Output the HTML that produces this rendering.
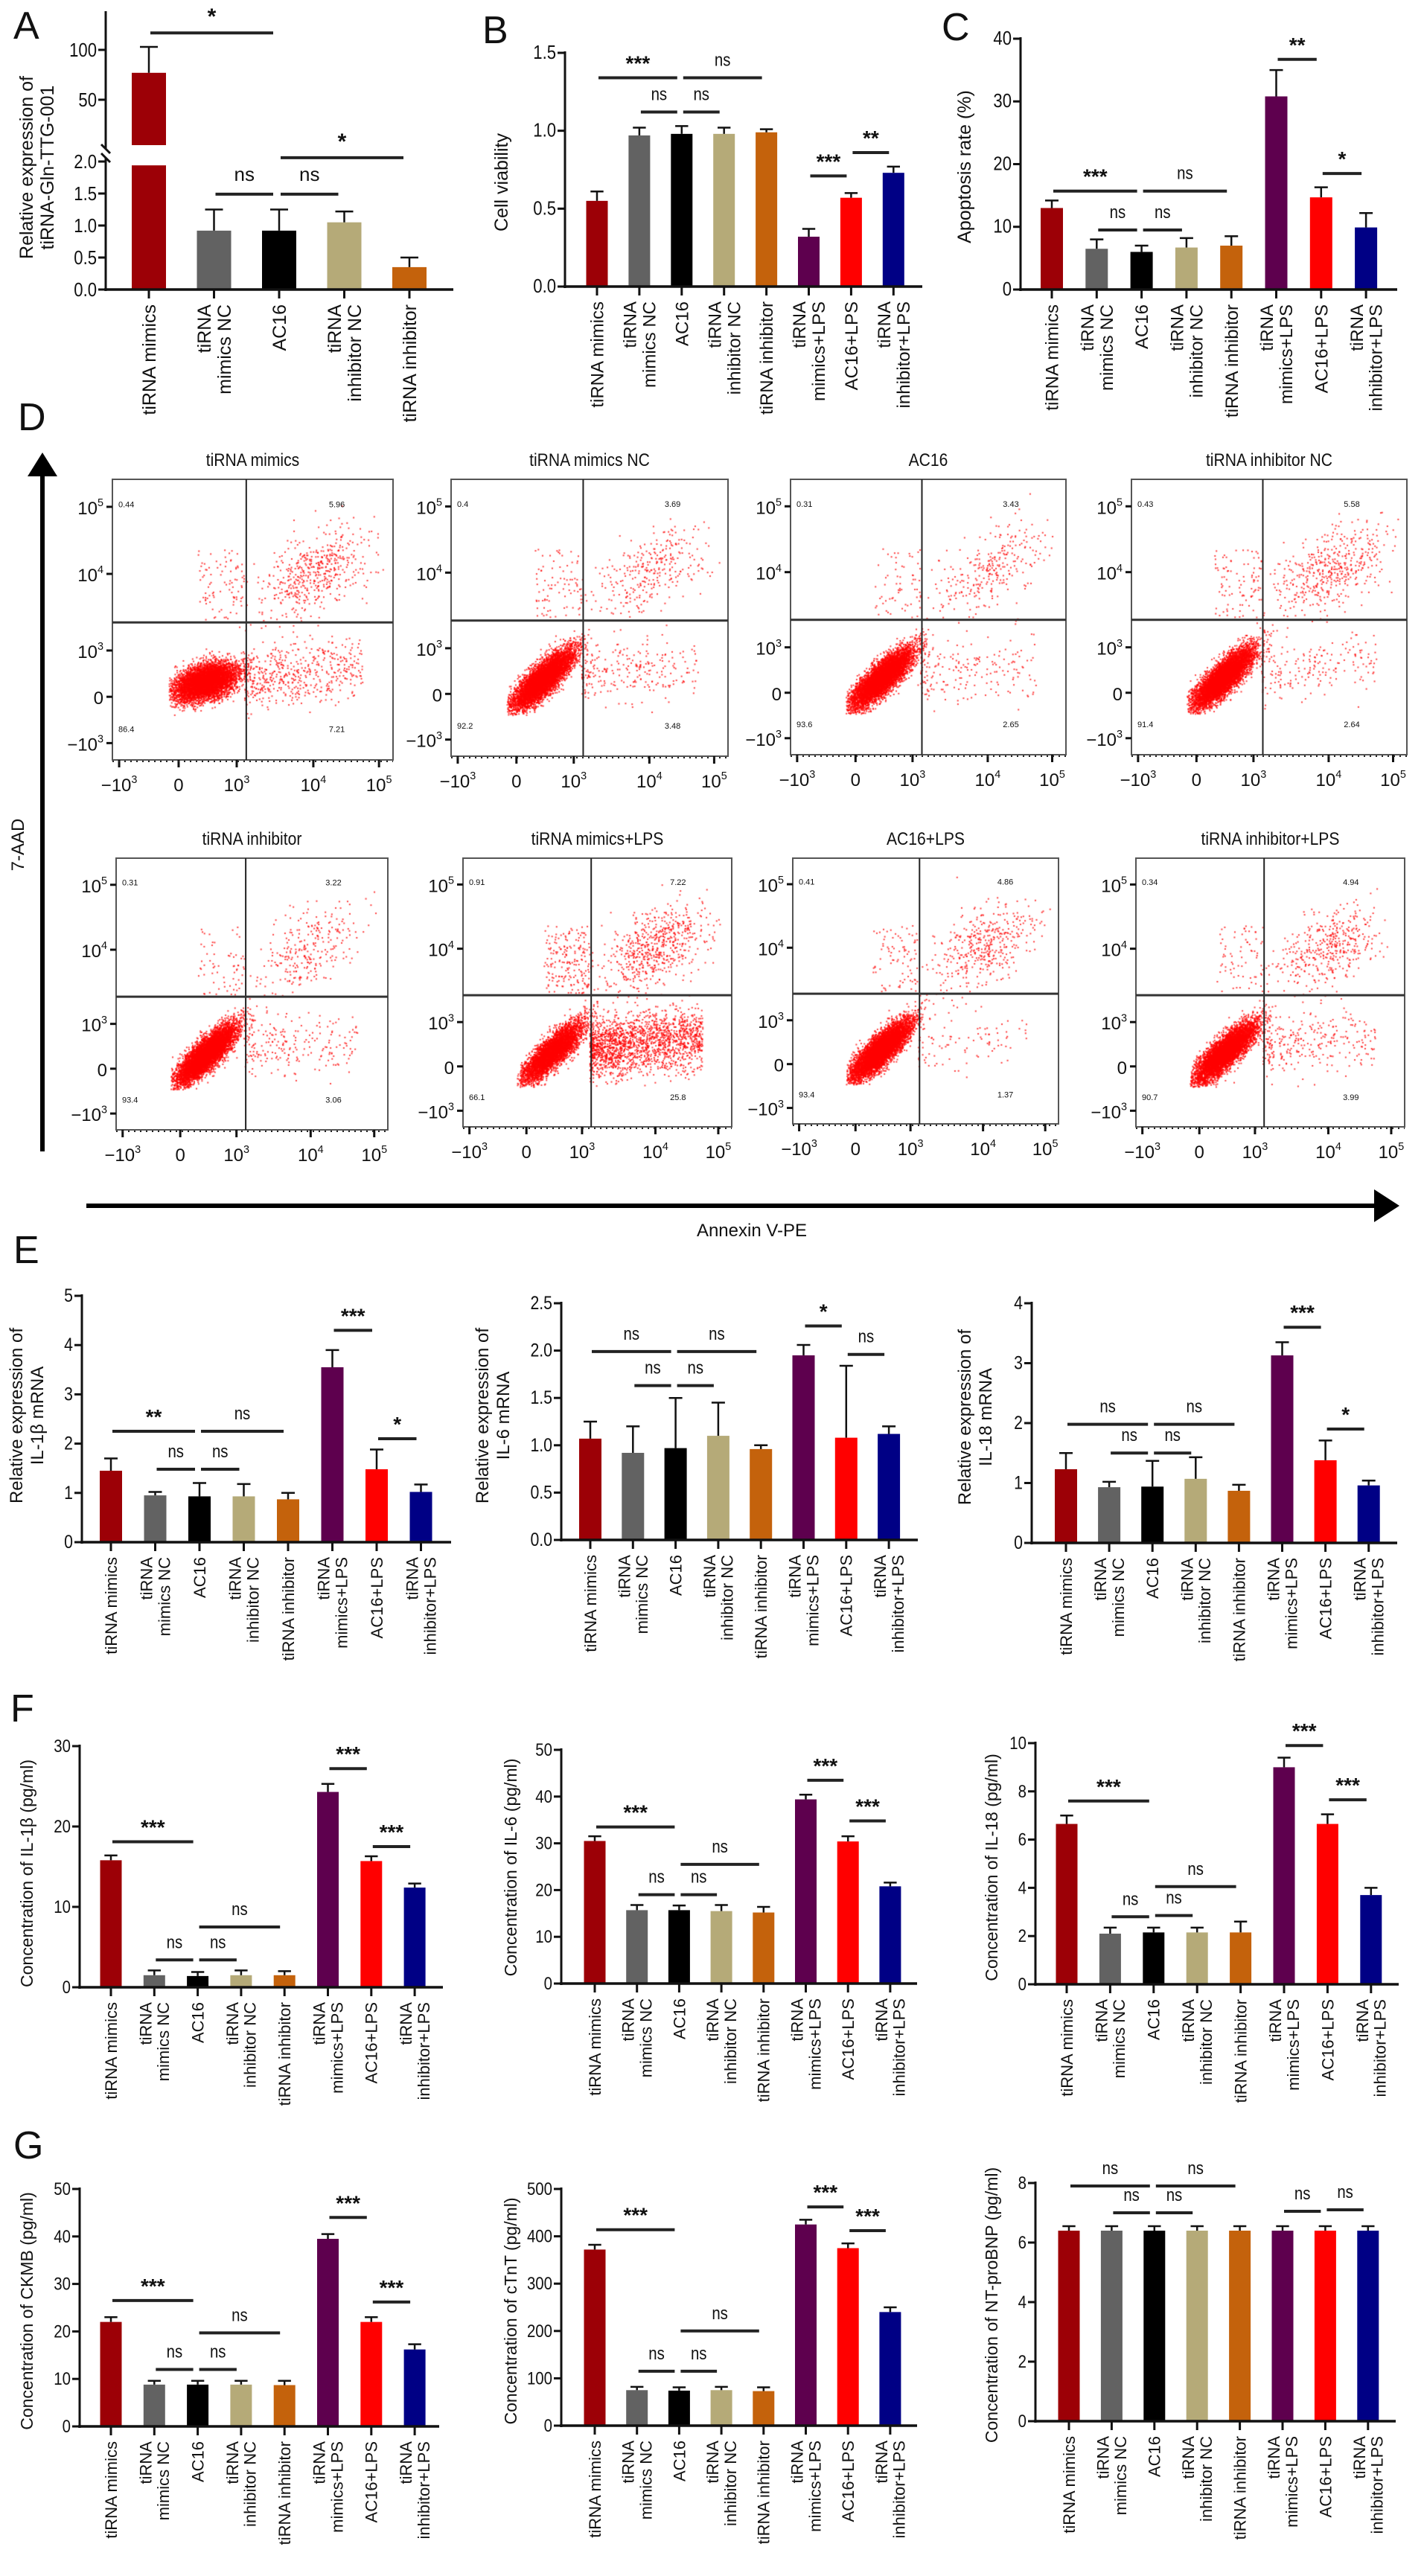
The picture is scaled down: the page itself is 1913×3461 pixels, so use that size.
<!DOCTYPE html>
<html><head><meta charset="utf-8"><title>Figure</title>
<style>
html,body{margin:0;padding:0;background:#fff;}
#wrap{position:relative;width:1913px;height:3461px;overflow:hidden;}
#dots{position:absolute;left:0;top:0;}
#fig{position:absolute;left:0;top:0;}
text{font-family:"Liberation Sans",Arial,sans-serif;fill:#111;}
</style></head>
<body>
<div id="wrap">
<canvas id="dots" width="1913" height="3461"></canvas>
<svg id="fig" width="1913" height="3461" xmlns="http://www.w3.org/2000/svg"></svg>
</div>
<script>
// ---------- DATA ----------
const colors = ["#9c0006","#626262","#000000","#b5aa78","#c4620c","#5e004e","#ff0000","#000085"];
const labels5 = [["tiRNA mimics"],["tiRNA","mimics NC"],["AC16"],["tiRNA","inhibitor NC"],["tiRNA inhibitor"]];
const labels8 = [["tiRNA mimics"],["tiRNA","mimics NC"],["AC16"],["tiRNA","inhibitor NC"],["tiRNA inhibitor"],["tiRNA","mimics+LPS"],["AC16+LPS"],["tiRNA","inhibitor+LPS"]];

const valsA = [77, 0.92, 0.92, 1.05, 0.35];
const errA  = [103, 1.25, 1.25, 1.22, 0.5];

const valsB = [0.55,0.97,0.98,0.98,0.99,0.32,0.57,0.73];
const errB  = [0.61,1.02,1.03,1.02,1.01,0.37,0.60,0.77];
const sigB  = [[0,2,1.34,"***"],[2,4,1.34,"ns"],[1,2,1.12,"ns"],[2,3,1.12,"ns"],[5,6,0.71,"***"],[6,7,0.86,"**"]];

const valsC = [13,6.5,6,6.7,7,30.8,14.7,9.9];
const errC  = [14.2,8,7,8.2,8.5,35,16.3,12.2];
const sigC  = [[0,2,15.7,"***"],[2,4,15.7,"ns"],[1,2,9.5,"ns"],[2,3,9.5,"ns"],[5,6,36.7,"**"],[6,7,18.5,"*"]];

const valsE1 = [1.45,0.95,0.93,0.93,0.87,3.55,1.48,1.02];
const errE1  = [1.7,1.02,1.2,1.18,1.0,3.9,1.88,1.17];
const sigE1  = [[0,2,2.25,"**"],[2,4,2.25,"ns"],[1,2,1.48,"ns"],[2,3,1.48,"ns"],[5,6,4.3,"***"],[6,7,2.1,"*"]];

const valsE2 = [1.07,0.92,0.97,1.1,0.96,1.95,1.08,1.12];
const errE2  = [1.25,1.2,1.5,1.45,1.0,2.06,1.84,1.2];
const sigE2  = [[0,2,1.99,"ns"],[2,4,1.99,"ns"],[1,2,1.63,"ns"],[2,3,1.63,"ns"],[5,6,2.26,"*"],[6,7,1.96,"ns"]];

const valsE3 = [1.23,0.93,0.94,1.07,0.87,3.13,1.38,0.96];
const errE3  = [1.5,1.02,1.37,1.43,0.97,3.35,1.71,1.04];
const sigE3  = [[0,2,1.98,"ns"],[2,4,1.98,"ns"],[1,2,1.5,"ns"],[2,3,1.5,"ns"],[5,6,3.6,"***"],[6,7,1.9,"*"]];

const valsF1 = [15.8,1.5,1.4,1.5,1.5,24.3,15.7,12.4];
const errF1  = [16.4,2.1,1.9,2.1,2.0,25.3,16.3,12.9];
const sigF1  = [[0,2,18.1,"***"],[2,4,7.5,"ns"],[1,2,3.4,"ns"],[2,3,3.4,"ns"],[5,6,27.2,"***"],[6,7,17.5,"***"]];

const valsF2 = [30.5,15.7,15.7,15.5,15.2,39.4,30.4,20.8];
const errF2  = [31.5,16.8,16.7,16.8,16.4,40.4,31.5,21.6];
const sigF2  = [[0,2,33.5,"***"],[2,4,25.5,"ns"],[1,2,19,"ns"],[2,3,19,"ns"],[5,6,43.5,"***"],[6,7,34.8,"***"]];

const valsF3 = [6.65,2.1,2.15,2.15,2.15,9.0,6.65,3.7];
const errF3  = [7.0,2.35,2.35,2.35,2.6,9.4,7.05,4.0];
const sigF3  = [[0,2,7.6,"***"],[2,4,4.05,"ns"],[1,2,2.8,"ns"],[2,3,2.85,"ns"],[5,6,9.9,"***"],[6,7,7.65,"***"]];

const valsG1 = [22,8.8,8.8,8.8,8.7,39.5,22,16.2];
const errG1  = [23,9.6,9.6,9.6,9.6,40.5,23,17.3];
const sigG1  = [[0,2,26.5,"***"],[2,4,19.7,"ns"],[1,2,12,"ns"],[2,3,12,"ns"],[5,6,44,"***"],[6,7,26.2,"***"]];

const valsG2 = [372,75,74,75,73,425,375,240];
const errG2  = [382,82,81,82,81,435,385,250];
const sigG2  = [[0,2,414,"***"],[2,4,200,"ns"],[1,2,115,"ns"],[2,3,115,"ns"],[5,6,462,"***"],[6,7,412,"***"]];

const valsG3 = [6.4,6.4,6.4,6.4,6.4,6.4,6.4,6.4];
const errG3  = [6.55,6.55,6.55,6.55,6.55,6.55,6.55,6.55];
const sigG3  = [[0,2,7.9,"ns"],[2,4,7.9,"ns"],[1,2,7.0,"ns"],[2,3,7.0,"ns"],[5,6,7.05,"ns"],[6,7,7.1,"ns"]];

const ticksA_low = [0,0.5,1.0,1.5,2.0];
const ticksA_high = [50,100];

const flowTitles = ["tiRNA mimics","tiRNA mimics NC","AC16","tiRNA inhibitor NC","tiRNA inhibitor","tiRNA mimics+LPS","AC16+LPS","tiRNA inhibitor+LPS"];
const flowUL = [0.44,0.40,0.31,0.43,0.31,0.91,0.41,0.34];
const flowUR = [5.96,3.69,3.43,5.58,3.22,7.22,4.86,4.94];
const flowLL = [86.4,92.2,93.6,91.4,93.4,66.1,93.4,90.7];
const flowLR = [7.21,3.48,2.65,2.64,3.06,25.8,1.37,3.99];

// ---------- HELPERS ----------
const svg = document.getElementById('fig');
const NS = "http://www.w3.org/2000/svg";
function mk(tag, attrs, parent){
  const e = document.createElementNS(NS, tag);
  for (const k in attrs) e.setAttribute(k, attrs[k]);
  (parent||svg).appendChild(e);
  return e;
}
function txt(s, x, y, size, anchor, parent, extra){
  const t = mk('text', Object.assign({x:x, y:y, 'font-size':size, 'text-anchor':anchor||'middle'}, extra||{}), parent);
  t.textContent = s;
  return t;
}
function fmtTick(v, dec){ return dec ? v.toFixed(dec) : String(v); }

function panelLetter(s, x, y){
  const t = txt(s, x, y, 52, 'start');
  
  
}

function barChart(c){
  const g = mk('g', {});
  
  
  const n = c.vals.length;
  const yS = v => c.baseY - v / c.max * (c.baseY - c.topY);
  const xS = i => c.first + i * c.step;
  const ax = mk('line', {x1:c.axisX, y1:c.baseY+2, x2:c.axisX, y2:c.topY-2, stroke:'#111', 'stroke-width':3}, g);
  
  
  c.ticks.forEach(tv => {
    const ty = yS(tv);
    mk('line', {x1:c.axisX-10, y1:ty, x2:c.axisX, y2:ty, stroke:'#111', 'stroke-width':3}, g);
    const tl = txt(fmtTick(tv, c.dec), c.axisX-12, ty+8, c.tfs||24, 'end', g, {transform:`translate(${c.axisX-12},0) scale(0.85,1) translate(${-(c.axisX-12)},0)`});
    
    
  });
  for (let i=0;i<n;i++){
    const cx = xS(i);
    const y = yS(c.vals[i]);
    const r = mk('rect', {x:cx-c.barW/2, y:y, width:c.barW, height:c.baseY-y, fill:colors[i]}, g);
    
    
    const ye = yS(c.errs[i]);
    mk('line', {x1:cx, y1:y, x2:cx, y2:ye, stroke:'#111', 'stroke-width':2.5}, g);
    mk('line', {x1:cx-c.barW*0.3, y1:ye, x2:cx+c.barW*0.3, y2:ye, stroke:'#111', 'stroke-width':2.5}, g);
    mk('line', {x1:cx, y1:c.baseY, x2:cx, y2:c.baseY+12, stroke:'#111', 'stroke-width':3}, g);
    const lines = c.labels[i];
    lines.forEach((ln, k) => {
      const off = (k - (lines.length-1)/2) * (c.lfs*1.08);
      const lx = cx + off + c.lfs*0.36;
      const ly = c.baseY + 20;
      const t = txt(ln, lx, ly, c.lfs, 'end', g, {transform:`rotate(-90 ${lx} ${ly})`});
      
      
    });
  }
  const xa = mk('line', {x1:c.axisX-2, y1:c.baseY, x2:c.xEnd, y2:c.baseY, stroke:'#111', 'stroke-width':3.5}, g);
  
  
  (c.sigs||[]).forEach(s => {
    const x1 = xS(s[0]) + 2, x2 = xS(s[1]) - 6, sy = yS(s[2]);
    const l = mk('line', {x1:x1, y1:sy, x2:x2, y2:sy, stroke:'#222', 'stroke-width':4}, g);
    
    
    const isStar = s[3].indexOf('*')>=0;
    const t = txt(s[3], (x1+x2)/2, isStar ? sy-10 : sy-16, isStar ? 28 : 24, 'middle', g, isStar ? {'font-weight':'bold'} : {transform:`translate(${(x1+x2)/2},0) scale(0.85,1) translate(${-(x1+x2)/2},0)`});
    
    
  });
  c.title.forEach((ln, k) => {
    const tx = c.titleX + (k - (c.title.length-1)/2) * (c.tlfs*1.15);
    const t = txt(ln, tx, c.titleY, c.tlfs, 'middle', g, {transform:`rotate(-90 ${tx} ${c.titleY})`});
    
    
  });
}

// ---------- PANEL A ----------
(function(){
  const g = mk('g', {});
  
  
  const axisX = 142, baseY = 389;
  const yLow = v => baseY - v*86;
  const yHigh = v => 67 + (100 - v)*1.34;
  const segLowTop = 212, segHighBot = 200;
  const first = 200, step = 87.5, barW = 46;
  const xS = i => first + i*step;
  mk('line', {x1:axisX, y1:baseY+2, x2:axisX, y2:segLowTop, stroke:'#111','stroke-width':3}, g);
  mk('line', {x1:axisX, y1:segHighBot, x2:axisX, y2:15, stroke:'#111','stroke-width':3}, g);
  mk('line', {x1:axisX-6, y1:segHighBot-6, x2:axisX+6, y2:segHighBot+6, stroke:'#111','stroke-width':3}, g);
  mk('line', {x1:axisX-6, y1:segLowTop-6, x2:axisX+6, y2:segLowTop+6, stroke:'#111','stroke-width':3}, g);
  ticksA_low.forEach(tv => {
    const ty = yLow(tv);
    mk('line', {x1:axisX-10, y1:ty, x2:axisX, y2:ty, stroke:'#111','stroke-width':3}, g);
    const t = txt(tv.toFixed(1), axisX-12, ty+9, 26, 'end', g, {transform:`translate(${axisX-12},0) scale(0.85,1) translate(${-(axisX-12)},0)`});
    
    
  });
  ticksA_high.forEach(tv => {
    const ty = yHigh(tv);
    mk('line', {x1:axisX-10, y1:ty, x2:axisX, y2:ty, stroke:'#111','stroke-width':3}, g);
    const t = txt(String(tv), axisX-12, ty+9, 26, 'end', g, {transform:`translate(${axisX-12},0) scale(0.85,1) translate(${-(axisX-12)},0)`});
    
    
  });
  const yOf = v => v > 2 ? yHigh(v) : yLow(v);
  valsA.forEach((v, i) => {
    const cx = xS(i);
    if (v > 2){
      const r1 = mk('rect', {x:cx-barW/2, y:yLow(1.94), width:barW, height:baseY-yLow(1.94), fill:colors[i]}, g);
      
      
      const r2 = mk('rect', {x:cx-barW/2, y:yHigh(v), width:barW, height:195-yHigh(v), fill:colors[i]}, g);
      
      
    } else {
      const r = mk('rect', {x:cx-barW/2, y:yLow(v), width:barW, height:baseY-yLow(v), fill:colors[i]}, g);
      
      
    }
    const y0 = yOf(v), ye = yOf(errA[i]);
    mk('line', {x1:cx, y1:y0, x2:cx, y2:ye, stroke:'#111','stroke-width':2.5}, g);
    mk('line', {x1:cx-12, y1:ye, x2:cx+12, y2:ye, stroke:'#111','stroke-width':2.5}, g);
    mk('line', {x1:cx, y1:baseY, x2:cx, y2:baseY+12, stroke:'#111','stroke-width':3}, g);
    const lines = labels5[i];
    lines.forEach((ln, k) => {
      const lfs = 25;
      const off = (k - (lines.length-1)/2) * (lfs*1.08);
      const lx = cx + off + lfs*0.36, ly = baseY + 20;
      const t = txt(ln, lx, ly, lfs, 'end', g, {transform:`rotate(-90 ${lx} ${ly})`});
      
      
    });
  });
  mk('line', {x1:axisX-2, y1:baseY, x2:609, y2:baseY, stroke:'#111','stroke-width':3.5}, g);
  const sigs = [[0,2,yHigh(117),"*"],[2,4,yLow(2.06),"*"],[1,2,yLow(1.49),"ns"],[2,3,yLow(1.49),"ns"]];
  sigs.forEach(s => {
    const x1 = xS(s[0])+2, x2 = xS(s[1])-8;
    const l = mk('line', {x1:x1, y1:s[2], x2:x2, y2:s[2], stroke:'#222','stroke-width':4}, g);
    
    
    const star = s[3]==='*';
    const t = txt(s[3], (x1+x2)/2, star ? s[2]-12 : s[2]-18, star?30:26, 'middle', g, star?{'font-weight':'bold'}:{});
    
    
  });
  [["Relative expression of",44],["tiRNA-Gln-TTG-001",72]].forEach(p => {
    const t = txt(p[0], p[1], 225, 25, 'middle', g, {transform:`rotate(-90 ${p[1]} 225)`});
    
    
  });
})();

panelLetter('A', 18, 52);
panelLetter('B', 648, 58);
panelLetter('C', 1265, 54);

barChart({name:'panel-b-chart', axisX:759, baseY:385, topY:71, max:1.5, ticks:[0,0.5,1.0,1.5], dec:1, first:802, step:56.9, barW:29, xEnd:1239,
  vals:valsB, errs:errB, sigs:sigB, labels:labels8, lfs:24, tfs:26, title:["Cell viability"], titleX:682, titleY:245, tlfs:25});
barChart({name:'panel-c-chart', axisX:1371, baseY:389, topY:52, max:40, ticks:[0,10,20,30,40], first:1413, step:60.3, barW:30, xEnd:1877,
  vals:valsC, errs:errC, sigs:sigC, labels:labels8, lfs:24, tfs:26, title:["Apoptosis rate (%)"], titleX:1304, titleY:224, tlfs:25});

// ---------- PANEL D ----------
panelLetter('D', 24, 578);
(function(){
  const g = mk('g', {});
  
  
  mk('line', {x1:57, y1:1547, x2:57, y2:630, stroke:'#000','stroke-width':6}, g);
  const ah = mk('polygon', {points:'57,608 37,640 77,640', fill:'#000'}, g);
  
  
  const ya = txt('7-AAD', 32, 1135, 24, 'middle', g, {transform:'rotate(-90 32 1135)'});
  
  
  mk('line', {x1:116, y1:1620, x2:1850, y2:1620, stroke:'#000','stroke-width':6}, g);
  const ah2 = mk('polygon', {points:'1880,1620 1846,1598 1846,1642', fill:'#000'}, g);
  
  
  const xa = txt('Annexin V-PE', 1010, 1661, 24, 'middle', g);
  
  
})();

const flowBoxX = [151, 606, 1062, 1520, 156, 622, 1065, 1526];
const flowBoxY = [644, 644, 644, 644, 1153, 1153, 1153, 1153];
const flowBoxW = [377, 372, 370, 370, 365, 361, 357, 361];
const xTickFr = [0.024, 0.236, 0.443, 0.716, 0.95];
const yTickFr = [0.098, 0.337, 0.61, 0.775, 0.94];
const tickSup = [["10","5"],["10","4"],["10","3"],["0",""],["\u221210","3"]];
const xTickSup = [["\u221210","3"],["0",""],["10","3"],["10","4"],["10","5"]];

function supText(parent, base, sup, x, y, size, anchor){
  const t = mk('text', {x:x, y:y, 'font-size':size, 'text-anchor':anchor}, parent);
  t.textContent = base;
  if (sup){
    const ts = document.createElementNS(NS, 'tspan');
    ts.setAttribute('font-size', size*0.6);
    ts.setAttribute('dy', -size*0.45);
    ts.textContent = sup;
    t.appendChild(ts);
  }
  return t;
}

function mulberry32(a){return function(){a|=0;a=a+0x6D2B79F5|0;let t=Math.imul(a^a>>>15,1|a);t=t+Math.imul(t^t>>>7,61|t)^t;return((t^t>>>14)>>>0)/4294967296;}}
const ctx = document.getElementById('dots').getContext('2d');

flowTitles.forEach((title, p) => {
  const bx = flowBoxX[p], by = flowBoxY[p], bw = flowBoxW[p], bh = bw;
  const g = mk('g', {});
  
  
  const tt = txt(title, bx + bw/2, by - 18, 24, 'middle', g, {transform:`translate(${bx+bw/2},0) scale(0.88,1) translate(${-(bx+bw/2)},0)`});
  
  
  const box = mk('rect', {x:bx, y:by, width:bw, height:bh, fill:'none', stroke:'#555','stroke-width':2}, g);
  
  
  const qx = bx + bw*0.477, qy = by + bh*0.51;
  mk('line', {x1:qx, y1:by, x2:qx, y2:by+bh, stroke:'#222','stroke-width':2}, g);
  mk('line', {x1:bx, y1:qy, x2:bx+bw, y2:qy, stroke:'#333','stroke-width':3}, g);
  yTickFr.forEach((f, k) => {
    const ty = by + bh*f;
    mk('line', {x1:bx-8, y1:ty, x2:bx, y2:ty, stroke:'#111','stroke-width':3}, g);
    const t = supText(g, tickSup[k][0], tickSup[k][1], bx-12, ty+10, 24, 'end');
    
    
  });
  xTickFr.forEach((f, k) => {
    const tx = bx + bw*f;
    mk('line', {x1:tx, y1:by+bh, x2:tx, y2:by+bh+10, stroke:'#111','stroke-width':3}, g);
    const t = supText(g, xTickSup[k][0], xTickSup[k][1], tx, by+bh+42, 24, 'middle');
    
    
  });
  mk('line', {x1:bx, y1:by+bh+2, x2:bx+bw, y2:by+bh+2, stroke:'#222','stroke-width':2,'stroke-dasharray':'2 6'}, g);
  const qn = [[flowUL[p], bx+8, by+bh*0.1, 'start'],[flowUR[p], bx+bw*0.8, by+bh*0.1, 'middle'],
              [flowLL[p], bx+8, by+bh*0.9, 'start'],[flowLR[p], bx+bw*0.8, by+bh*0.9, 'middle']];
  qn.forEach(q => {
    const t = txt(String(q[0]), q[1], q[2], 11, q[3], g, {'font-family':'Liberation Serif'});
    
    
  });
  const rnd = mulberry32(1234 + p*97);
  const gauss = () => { let u=0,v=0; while(u===0)u=rnd(); v=rnd(); return Math.sqrt(-2*Math.log(u))*Math.cos(2*Math.PI*v); };
  const N = 7000;
  ctx.fillStyle = 'rgba(255,0,0,0.75)';
  const dot = (fx, fy) => { if(fx<0.2||fx>0.97||fy<0.05||fy>0.85) return; ctx.fillRect(bx+fx*bw, by+fy*bh, 2, 2); };
  const nLL = Math.round(N*flowLL[p]/100), nLR = Math.round(N*flowLR[p]/100), nUR = Math.round(N*flowUR[p]/100*1.2), nUL = Math.round(N*flowUL[p]/100*3);
  const tilt = p===0 ? 0.3 : 0.9;
  for (let i=0;i<nLL;i++){ const u=gauss(), v=gauss(); dot(0.33+0.055*u, 0.72-0.05*tilt*u+0.03*v); }
  for (let i=0;i<nLR;i++){ const fx = 0.47 + Math.pow(rnd(),1.3)*0.42; dot(fx, 0.71 + 0.055*gauss() - (fx-0.47)*0.12); }
  for (let i=0;i<nUR;i++){ const u=gauss(), v=gauss(); dot(0.72+0.1*u, 0.33-0.04*u+0.07*v); }
  for (let i=0;i<nUL;i++){ dot(0.3+rnd()*0.17, 0.25+rnd()*0.25); }
});

// ---------- PANEL E ----------
panelLetter('E', 18, 1697);
barChart({name:'panel-e-il1b-mrna', axisX:110, baseY:2072, topY:1741, max:5, ticks:[0,1,2,3,4,5], first:149, step:59.5, barW:30, xEnd:606,
  vals:valsE1, errs:errE1, sigs:sigE1, labels:labels8, lfs:22, tfs:25, title:["Relative expression of","IL-1\u03b2 mRNA"], titleX:44, titleY:1902, tlfs:24});
barChart({name:'panel-e-il6-mrna', axisX:754, baseY:2069, topY:1751, max:2.5, ticks:[0,0.5,1.0,1.5,2.0,2.5], dec:1, first:793, step:57.3, barW:30, xEnd:1233,
  vals:valsE2, errs:errE2, sigs:sigE2, labels:labels8, lfs:22, tfs:25, title:["Relative expression of","IL-6 mRNA"], titleX:670, titleY:1902, tlfs:24});
barChart({name:'panel-e-il18-mrna', axisX:1386, baseY:2073, topY:1751, max:4, ticks:[0,1,2,3,4], first:1432, step:58.1, barW:30, xEnd:1877,
  vals:valsE3, errs:errE3, sigs:sigE3, labels:labels8, lfs:22, tfs:25, title:["Relative expression of","IL-18 mRNA"], titleX:1318, titleY:1904, tlfs:24});

// ---------- PANEL F ----------
panelLetter('F', 14, 2313);
barChart({name:'panel-f-il1b', axisX:107, baseY:2670, topY:2346, max:30, ticks:[0,10,20,30], first:149, step:58.3, barW:29, xEnd:595,
  vals:valsF1, errs:errF1, sigs:sigF1, labels:labels8, lfs:22, tfs:24, title:["Concentration of IL-1\u03b2 (pg/ml)"], titleX:44, titleY:2517, tlfs:23});
barChart({name:'panel-f-il6', axisX:754, baseY:2665, topY:2351, max:50, ticks:[0,10,20,30,40,50], first:799, step:56.7, barW:29, xEnd:1232,
  vals:valsF2, errs:errF2, sigs:sigF2, labels:labels8, lfs:22, tfs:24, title:["Concentration of IL-6 (pg/ml)"], titleX:694, titleY:2509, tlfs:23});
barChart({name:'panel-f-il18', axisX:1391, baseY:2666, topY:2342, max:10, ticks:[0,2,4,6,8,10], first:1433, step:58.4, barW:29, xEnd:1879,
  vals:valsF3, errs:errF3, sigs:sigF3, labels:labels8, lfs:22, tfs:24, title:["Concentration of IL-18 (pg/ml)"], titleX:1340, titleY:2509, tlfs:23});

// ---------- PANEL G ----------
panelLetter('G', 18, 2900);
barChart({name:'panel-g-ckmb', axisX:107, baseY:3260, topY:2941, max:50, ticks:[0,10,20,30,40,50], first:149, step:58.3, barW:29, xEnd:590,
  vals:valsG1, errs:errG1, sigs:sigG1, labels:labels8, lfs:22, tfs:24, title:["Concentration of CKMB (pg/ml)"], titleX:44, titleY:3105, tlfs:23});
barChart({name:'panel-g-ctnt', axisX:754, baseY:3259, topY:2941, max:500, ticks:[0,100,200,300,400,500], first:799, step:56.7, barW:29, xEnd:1232,
  vals:valsG2, errs:errG2, sigs:sigG2, labels:labels8, lfs:22, tfs:24, title:["Concentration of cTnT (pg/ml)"], titleX:694, titleY:3105, tlfs:23});
barChart({name:'panel-g-ntprobnp', axisX:1391, baseY:3253, topY:2933, max:8, ticks:[0,2,4,6,8], first:1436, step:57.4, barW:29, xEnd:1875,
  vals:valsG3, errs:errG3, sigs:sigG3, labels:labels8, lfs:22, tfs:24, title:["Concentration of NT-proBNP (pg/ml)"], titleX:1340, titleY:3097, tlfs:23});
</script>
</body></html>
